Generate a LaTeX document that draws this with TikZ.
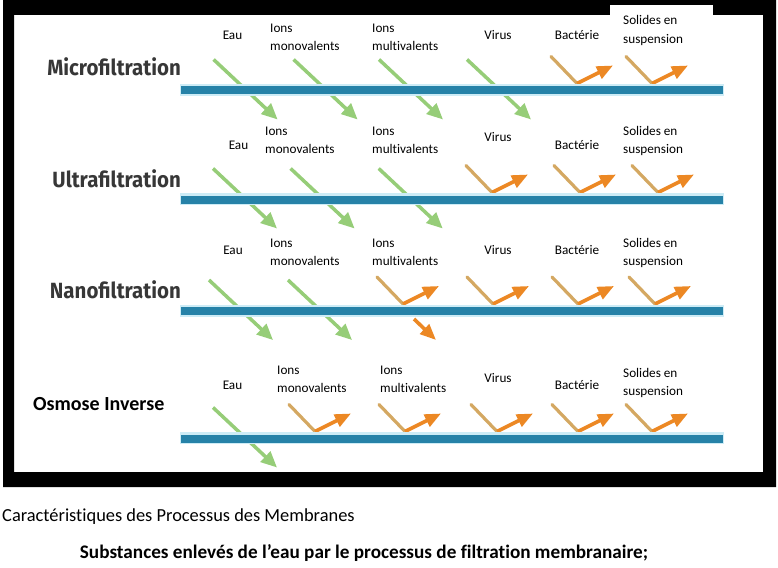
\documentclass[tikz,border=0pt]{standalone}
\usepackage{fontspec}
\setmainfont{Carlito}[Ligatures=NoCommon]
\newfontfamily\titrefamille{Fira Sans}[FakeStretch=0.93]
\usepackage{tikz}
\usetikzlibrary{arrows.meta}
\definecolor{vertclair}{RGB}{150,205,120}
\definecolor{beige}{RGB}{212,168,98}
\definecolor{orangevif}{RGB}{236,136,36}
\definecolor{membranebleu}{RGB}{38,130,168}
\definecolor{lueur}{RGB}{205,236,246}
\definecolor{titregris}{RGB}{55,55,55}
\newcommand{\etiq}{\fontsize{13.2}{18.4}\selectfont}
\newcommand{\titre}{\titrefamille\bfseries\fontsize{22}{24}\selectfont}
\newcommand{\traverse}[2]{\draw[passe] (#1-33,#2-31) -- (#1+31,#2+29);}
\newcommand{\rejet}[2]{%
    \draw[retenu] (#1-26,#2-34) -- (#1,#2-7);
    \draw[renvoi] (#1,#2-7) -- (#1+36,#2-25);}
\newcommand{\membrane}[1]{%
    \fill[lueur] (180,#1-6.5) rectangle (724,#1+5.5);
    \fill[membranebleu] (181,#1-4) rectangle (723,#1+4);}
\tikzset{
    etiquette/.style={font=\etiq, align=left, inner sep=0pt},
    procede/.style={font=\titre, text=titregris, inner sep=0pt, anchor=base east},
    passe/.style={draw=vertclair, line width=3.5pt, -{Triangle[width=14pt, length=16pt]}},
    retenu/.style={draw=beige, line width=3.2pt, line cap=round},
    renvoi/.style={draw=orangevif, line width=3.6pt, -{Triangle[width=13pt, length=16pt]}}
}

\begin{document}
\begin{tikzpicture}[x=1pt, y=-1pt]
    \useasboundingbox (0,0) rectangle (778,567);
    % cadre
    \fill[black, even odd rule] (3,0) rectangle (776,487) (14,15) rectangle (763,472);
    \fill[white] (610,5) rectangle (713,15);

    % fleches
    \traverse{246.6}{90.5} \traverse{326.6}{90.5} \traverse{412}{90.5} \traverse{500}{90.5}
    \rejet{577}{90.5} \rejet{652}{90.5}
    \traverse{246}{199.5} \traverse{323.6}{199.5} \traverse{411.7}{199.5}
    \rejet{492}{199.5} \rejet{580}{199.5} \rejet{658}{199.5}
    \traverse{242}{311} \traverse{321}{311}
    \rejet{403}{311} \rejet{493}{311} \rejet{578}{311} \rejet{655}{311}
    \draw[renvoi] (414,319) -- (436,340);
    \traverse{246}{438.5}
    \rejet{315}{438.5} \rejet{405}{438.5} \rejet{497}{438.5} \rejet{578}{438.5} \rejet{652}{438.5}

    \membrane{90.5}
    \membrane{199.5}
    \membrane{311}
    \membrane{438.5}

    % base = ligne du bas pour les etiquettes sur deux lignes
    \path
        (181,76) node[procede] (mf) {Microfiltration}
        (232.5,39.3) node[etiquette, anchor=base] (mf-eau) {Eau}
        (270,50.7) node[etiquette, anchor=base west] (mf-mono) {Ions\\monovalents}
        (372,50.7) node[etiquette, anchor=base west] (mf-multi) {Ions\\multivalents}
        (498,39.3) node[etiquette, anchor=base] (mf-virus) {Virus}
        (577,39.3) node[etiquette, anchor=base] (mf-bact) {Bactérie}
        (623,43.4) node[etiquette, anchor=base west] (mf-sol) {Solides en\\suspension};

    \path
        (181,187) node[procede] (uf) {Ultrafiltration}
        (238.5,149.3) node[etiquette, anchor=base] (uf-eau) {Eau}
        (265,153.4) node[etiquette, anchor=base west] (uf-mono) {Ions\\monovalents}
        (372,153.4) node[etiquette, anchor=base west] (uf-multi) {Ions\\multivalents}
        (498,141.7) node[etiquette, anchor=base] (uf-virus) {Virus}
        (577,149.3) node[etiquette, anchor=base] (uf-bact) {Bactérie}
        (623,153.4) node[etiquette, anchor=base west] (uf-sol) {Solides en\\suspension};

    \path
        (181,298) node[procede] (nf) {Nanofiltration}
        (233,254.5) node[etiquette, anchor=base] (nf-eau) {Eau}
        (270,265.9) node[etiquette, anchor=base west] (nf-mono) {Ions\\monovalents}
        (372,265.9) node[etiquette, anchor=base west] (nf-multi) {Ions\\multivalents}
        (498,254.5) node[etiquette, anchor=base] (nf-virus) {Virus}
        (577,254.5) node[etiquette, anchor=base] (nf-bact) {Bactérie}
        (623,265.9) node[etiquette, anchor=base west] (nf-sol) {Solides en\\suspension};

    \path
        (33,410) node[anchor=base west, inner sep=0pt, font=\bfseries\fontsize{20}{24}\selectfont] (oi) {Osmose Inverse}
        (232.5,389.5) node[etiquette, anchor=base] (oi-eau) {Eau}
        (277,392.9) node[etiquette, anchor=base west] (oi-mono) {Ions\\monovalents}
        (380,392.9) node[etiquette, anchor=base west] (oi-multi) {Ions\\multivalents}
        (498,382.5) node[etiquette, anchor=base] (oi-virus) {Virus}
        (577,389.5) node[etiquette, anchor=base] (oi-bact) {Bactérie}
        (623,395.9) node[etiquette, anchor=base west] (oi-sol) {Solides en\\suspension};

    \node[anchor=base west, inner sep=0pt, font=\fontsize{18.4}{22}\selectfont] (legende) at (2,521) {Caractéristiques des Processus des Membranes};
    \node[anchor=base, inner sep=0pt, font=\bfseries\fontsize{19.2}{22}\selectfont] (soustitre) at (364,558.5) {Substances enlevés de l’eau par le processus de filtration membranaire;};
\end{tikzpicture}
\end{document}
